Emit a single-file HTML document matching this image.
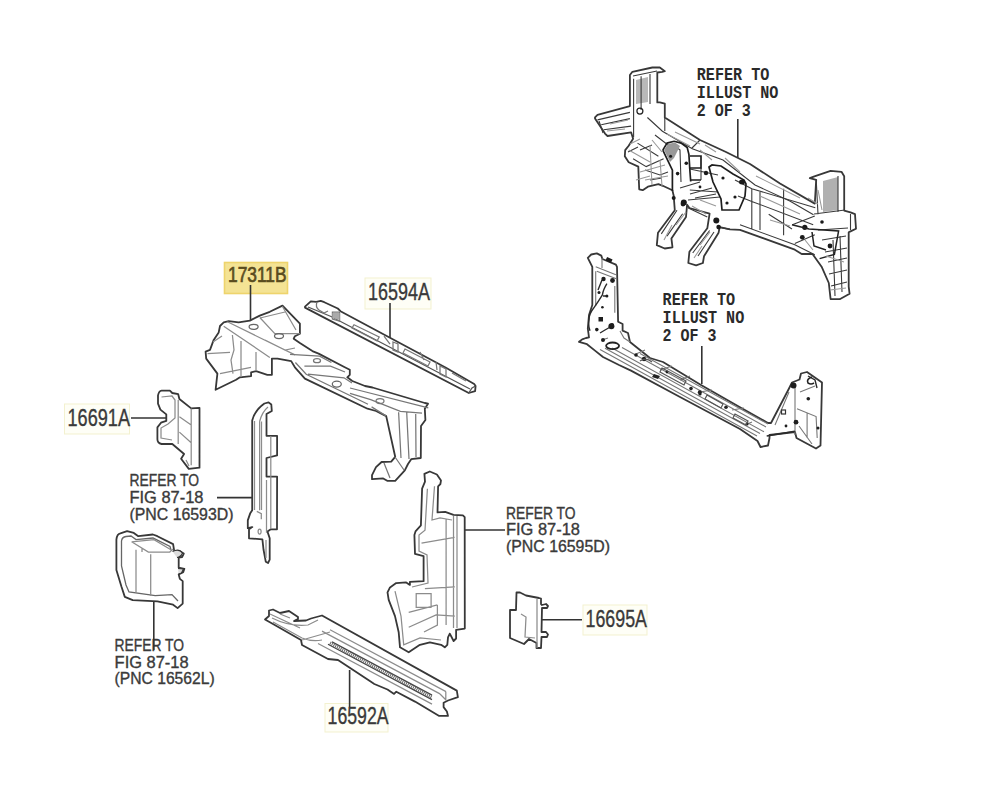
<!DOCTYPE html>
<html><head><meta charset="utf-8">
<style>
html,body{margin:0;padding:0;background:#fff;width:1000px;height:802px;overflow:hidden}
svg{display:block}
.s{font-family:"Liberation Sans",sans-serif;fill:#3a3a3a;stroke:#3a3a3a;stroke-width:0.35}
.m{font-family:"Liberation Mono",monospace;font-weight:bold;fill:#2a2a2a}
.ln{stroke:#333;stroke-width:1.6;fill:none}
.o{stroke:#383838;stroke-width:1.8;fill:#fff;stroke-linejoin:round}
.i{stroke:#8c8c8c;stroke-width:1.25;fill:none}
</style></head><body>
<svg width="1000" height="802" viewBox="0 0 1000 802">
<rect width="1000" height="802" fill="#fff"/>
<!-- label boxes -->
<rect x="224.5" y="262.5" width="63" height="31" fill="#f4e394" stroke="#eed46c" stroke-width="1.6"/>
<rect x="365" y="278" width="66" height="31" fill="#fefef6" stroke="#f3f1cf" stroke-width="1"/>
<rect x="64.5" y="404" width="65" height="30" fill="#fefef6" stroke="#f3f1cf" stroke-width="1"/>
<rect x="583" y="605" width="64" height="30" fill="#fefef6" stroke="#f3f1cf" stroke-width="1"/>
<rect x="325" y="703.5" width="63" height="28.5" fill="#fefef6" stroke="#f3f1cf" stroke-width="1"/>

<!-- labels -->
<text class="s" x="228" y="281.5" font-size="21.5" textLength="58.5" lengthAdjust="spacingAndGlyphs" style="fill:#5a4c1e;stroke:#5a4c1e;stroke-width:0.7">17311B</text>
<text class="s" x="368" y="300" font-size="23" textLength="62" lengthAdjust="spacingAndGlyphs">16594A</text>
<text class="s" x="67.5" y="426" font-size="23" textLength="62.5" lengthAdjust="spacingAndGlyphs">16691A</text>
<text class="s" x="585.5" y="627" font-size="23" textLength="61.5" lengthAdjust="spacingAndGlyphs">16695A</text>
<text class="s" x="327.6" y="724" font-size="23" textLength="61" lengthAdjust="spacingAndGlyphs">16592A</text>

<g class="s" font-size="16">
<text x="129.5" y="485.5" textLength="69.5" lengthAdjust="spacingAndGlyphs">REFER TO</text>
<text x="129.5" y="502.7" textLength="74" lengthAdjust="spacingAndGlyphs">FIG 87-18</text>
<text x="129.5" y="519.5" textLength="104" lengthAdjust="spacingAndGlyphs">(PNC 16593D)</text>

<text x="114.6" y="651" textLength="69.5" lengthAdjust="spacingAndGlyphs">REFER TO</text>
<text x="114.6" y="667.5" textLength="74" lengthAdjust="spacingAndGlyphs">FIG 87-18</text>
<text x="114.6" y="684" textLength="100" lengthAdjust="spacingAndGlyphs">(PNC 16562L)</text>

<text x="506" y="518.8" textLength="69.5" lengthAdjust="spacingAndGlyphs">REFER TO</text>
<text x="506" y="535" textLength="74" lengthAdjust="spacingAndGlyphs">FIG 87-18</text>
<text x="506" y="551.5" textLength="104" lengthAdjust="spacingAndGlyphs">(PNC 16595D)</text>
</g>

<g class="m" font-size="17.5">
<text x="696.8" y="80" textLength="72.6" lengthAdjust="spacingAndGlyphs">REFER TO</text>
<text x="696.8" y="98" textLength="81.6" lengthAdjust="spacingAndGlyphs">ILLUST NO</text>
<text x="696.8" y="116" textLength="54" lengthAdjust="spacingAndGlyphs">2 OF 3</text>

<text x="662.6" y="305" textLength="72.6" lengthAdjust="spacingAndGlyphs">REFER TO</text>
<text x="662.6" y="323" textLength="81.6" lengthAdjust="spacingAndGlyphs">ILLUST NO</text>
<text x="662.6" y="341" textLength="54" lengthAdjust="spacingAndGlyphs">2 OF 3</text>
</g>

<!-- leader lines -->
<g class="ln">
<line x1="250.5" y1="285" x2="250.5" y2="321"/>
<line x1="390" y1="303" x2="390" y2="339"/>
<line x1="131" y1="418" x2="166" y2="418"/>
<line x1="217" y1="497.6" x2="252" y2="497.6"/>
<line x1="153.8" y1="602" x2="153.8" y2="650"/>
<line x1="464" y1="530" x2="505" y2="530"/>
<line x1="541" y1="619.8" x2="582" y2="619.8"/>
<line x1="349.6" y1="670" x2="349.6" y2="707"/>
<line x1="737.8" y1="119" x2="737.8" y2="160"/>
<line x1="701.8" y1="346" x2="701.8" y2="384"/>
</g>
<!-- PARTS -->

<!-- A: 17311B -->
<g>
<path class="o" d="M220,326 L223.7,322.4 L228.7,321.2 L238.6,322.4 L249.9,320.6 L259.8,315.6 L269.8,311.8 L282.5,305.6 L299.9,323.7 L299.9,333.7 L294.9,336.2 L293.7,338.7 L299.9,343 L312.4,351.1 L318.6,353.6 L344.8,367.3 L349.8,369.8 L349.8,374.8 L347.3,377.3 L352.3,381 L365,386 L372.5,387.5 L424.8,403 L428,403.7 L424.8,408.7 L425.4,420 L421,426 L420.8,458 L411.2,459.2 L408,464 L404.8,470.4 L395.2,480.8 L387.2,480.8 L383.2,478.4 L372,479.2 L372,475.2 L376,467.2 L381.6,462 L391.2,461.6 L395.2,456.8 L386.2,416.1 L376,411 L367.5,408.7 L304.9,378.6 L294.9,367.3 L291.2,361.1 L277.5,358.6 L271.9,358.6 L271.9,374.8 L267.3,374.8 L256.1,371.1 L251.1,372.3 L251.1,376.1 L239.9,377.3 L236.1,379.8 L215.6,389.8 L217.4,373.6 L206.2,358.6 L205.6,351.7 L210,349.9 L213.7,339.9 L218.7,332.4 Z"/>
<path class="i" d="M227.4,321.8 L295,354.9 M223.7,326.2 L269.8,357.4 M241,341 L241,377 M256,352 L256,371 M232.4,335 L234,350 L231,360 L233,373.6 M207.5,353.6 L230,352.4 M220,373.6 L251,367.3 M259.8,317.5 L274.8,333.7 L299.9,333.7 M282.3,306.2 L296,330 M260,318 L285,312 M213,342 L222,336 M265,340 L285,350 L295,348"/>
<path class="i" style="stroke:#777" d="M290,354.4 L319.7,356.2 L331.4,362.5 M304.4,366.1 L330.5,366.1 L345,372 M308,374.2 L344,377.8 L352,383 M295.4,362.5 L306.2,374.2 L368,404.2 M350,388 L428.3,407.8 M350,393.4 L370.7,399.7 L400.4,411.4 L422,413.2 M371.6,406.9 L386,415.9 M398.6,412.3 L401,458 M406.7,412.3 L409,459 M415.7,414.1 L416,457 M395,457 L404,470 M384,463 L390,478"/>
<ellipse cx="253.6" cy="326.8" rx="4.5" ry="2.5" class="i" style="stroke:#666"/>
<ellipse cx="279" cy="336" rx="4.5" ry="2.5" class="i" style="stroke:#666"/>
<ellipse cx="336.8" cy="384.1" rx="4.5" ry="3" class="i" style="stroke:#666"/>
<ellipse cx="317" cy="360.7" rx="3.5" ry="2" class="i" style="stroke:#777"/>
<ellipse cx="380" cy="401" rx="4" ry="2.5" class="i" style="stroke:#777"/>
</g>

<!-- B: 16594A -->
<g>
<path class="o" d="M305,306.7 L310.8,301.3 L316.2,301.8 L320.7,300.9 L324.3,302.2 L337.8,308.5 L340.5,311.2 L446,367.8 L474.2,384 L475.6,386 L475.1,391.2 L468.8,393 L305,307.6 Z"/>
<path class="i" style="stroke:#555;stroke-width:1.3" d="M308,307 L331,316.5 L470,389 M468.8,393 L472,388 L475.5,386"/>
<path class="i" style="stroke:#777" d="M317,302 Q315,307 319,310 L324,313 L328,311 M332.4,312.1 L339.6,312.1 L339.6,321.1 L332.4,319 Z M354,324.7 L379.2,337 L377,341 L352,328 Z M393,342 L398,344 L398,352 L393,350 Z M405,349 L430,362 L428,366 L403,353 Z M440,366 L446,369 L446,377 L440,374 Z M452,373 L466,381 M384,336 L390,344 M420,352 L424,360 M436,362 L437,370"/>
<path d="M332.4,313 L339.6,313 L339.6,320 L332.4,318 Z" fill="#aaa"/>
</g>

<!-- C: 16691A -->
<g>
<path class="o" d="M158,395.4 Q159,391 161.6,390.7 L169.9,390.7 L172.3,393 L178.2,394.2 L179.4,399 L191.2,408.4 L199.5,407.8 L199.5,467.7 L188.8,468.9 L181.1,458.8 L184.1,454 L172.3,444 L161.6,444 Q157.4,443 157.4,439.2 L157.4,427.4 L161,422.7 L166.3,420.9 L166.3,414.4 L160.4,409.6 L158,403.7 Z"/>
<path class="i" d="M178.2,400 L178.2,444 M191.2,408.4 L191.2,465.3 M179.4,416.7 L191.2,425 M179.4,432.1 L191.2,442.8 M161.5,397 L172,396 L175,400 L175,418 L168,424 L161,428 L161,438 L172,440 M186,460 L189,466"/>
</g>

<!-- D: 16593D -->
<g>
<path class="o" d="M252.2,510.3 L252.2,420.4 Q255,410 264.4,403.5 L268.6,402.4 L271.3,404.5 L271.8,410.9 L266.5,414.1 L266.5,435.8 L277.1,435.8 L277.1,455.4 L266.5,458 L266.5,476.6 L277.1,476.6 L277,529.3 L270.8,529.3 L267.5,531.6 L269.7,538.3 L269.7,559.6 L268,563 L265.8,561.8 L263.5,549.5 L262.4,539.4 L249,538.3 L249,529.3 L252.3,527.1 L247.8,528.2 L247.8,520.4 L250.1,513.6 Z"/>
<path class="i" d="M254.5,421 L254.5,510 M259.6,421.5 L259.6,510.3 M261.5,421.5 L261.5,510 M259.6,421.5 Q262,412 268,407 M270.8,436 L270.8,529 M256.8,511.4 L261.3,513.6 L261.3,519.2 M266.5,480 L266.5,532.7 M266,540 L266,558"/>
<ellipse cx="259.6" cy="531.6" rx="1.5" ry="2.5" class="i"/>
</g>

<!-- E: 16562L -->
<g>
<path class="o" d="M116.4,539.6 Q117,534 120.4,533.4 L127.1,531.2 L133.8,532.9 L138.3,536.2 L152.9,534.5 L157.4,536.2 L173.1,544.1 L174.2,550.8 L179.9,551.4 L183.8,553.6 L182.1,557 L178.7,557.6 L178.7,567.7 L184.4,568.8 L183.2,572.2 L178.7,574.4 L179.9,578.9 L182.7,581.1 L182.7,603.6 L177.6,608.1 L173.1,604.7 L157.4,601.4 L132.7,600.2 L124.8,596.9 L121.5,586.8 L116.4,569.9 Z"/>
<path class="i" style="stroke:#666;stroke-width:1.3" d="M121.5,541 Q122,537 126,536.5 L131,536 L136,539.6 L153,538 L170,546.5 L171,550 M121.5,541 L121.5,566 L126,585 L129,592 L155.2,595.7 L172,594.6 L178,601"/>
<path class="i" d="M131.6,541.8 L148.4,552 L169.8,552 L173,549 M131.6,541.8 L154,539.6 L170.9,549.7 M136,549.7 L136,592.4 M150.7,554.2 L150.7,595.7 M142,548 L142,552"/>
<path d="M172.5,551.5 Q179,548 182.5,553 Q181,557 177,557.5 M178,568.5 L183.5,569 L181.5,573 L178.5,574" stroke="#333" stroke-width="1.2" fill="#ddd"/>
</g>

<!-- F: 16595D -->
<g>
<path class="o" d="M424.4,473.9 L429.8,471.5 L436.9,474.5 L441,480.4 L440.4,484 L438.1,486.3 L437.5,512.4 L445.2,511.8 L453.5,514.8 L462.9,515.4 L464.7,517.1 L464.8,628.6 L456.1,629.8 L456.1,638.5 L453.6,641 L449.8,633.6 L448,637.3 L447.3,644.8 L444.8,647.3 L441.1,644.8 L429.9,642.3 L419.9,644.8 L408.7,652.3 L400,647.3 L398.7,632.3 L395,616.1 L388.7,599.9 L387.5,592.4 L390,587.4 L396.2,583.1 L406.2,582.4 L409.9,584.9 L409.9,581.8 L423.6,581.2 L423.6,556.2 L415,553.9 L414.4,534.9 L415.5,531.4 L420.9,525.4 L422.1,488.7 L425,481.6 Z"/>
<path class="i" d="M427.4,488.7 L425,530.2 L419,535 L419,551 L427,555 L428,583 L412,587 M434.5,486.3 L432,520 L440,518 L452,520 M446.1,519.5 L446.1,625 M453.5,516 L453.5,628 M457,516 L457,628 M421.5,543.2 L454.6,537.3 M424.9,588.7 L454.8,586.8 M408.7,612.4 L437.4,604.9 M408.7,627.3 L436.1,614.9 L454.8,616.1 M416.2,593.7 L431.1,593.7 L431.1,607.4 L416.2,607.4 Z M395,591.2 L401,616 L403.7,644.8 L420,638 L441,640 M437.4,604.9 L437.4,625 L424,632"/>
</g>

<!-- G: 16695A -->
<g>
<path class="o" d="M516.5,592.5 L520,592.5 L526,595.5 L539,598 L541,598.5 L541,604 L542,605 L546,604 L548,606 L547,608 L542,608 L541.5,632 L546,632 L548,634.5 L547,637 L541.5,637 L541,648 L536.5,648 L536.5,643 L529,639 L524,644 L510,638 L510,610 L516,610 Z"/>
<path class="i" d="M537,599 L537,648 M521,614 L526,617 L525,637 L535,638"/>
</g>

<!-- H: 16592A -->
<g>
<path class="o" d="M265,619.5 L269,616 L269,610.5 L273,609.5 L280,613 L289,611 L298,617 L298,619 L294,621 L306,620.5 L311,618.5 L322,615.5 L456.8,690.6 L457.9,697.2 L448,700.5 L443.6,702.7 L443.6,707.1 L446.9,711.5 L448,715.9 L439.2,715.9 L415,701.6 L396.3,691.7 L394.1,693.9 L387.5,689.5 L374.3,684 L371,681.8 L338,660 L328,659 L302,645 L301,640 L273,624 Z"/>
<path class="i" d="M330,629.8 L446,691.6 M322,631.1 L440,693.9 M318,643.5 L432,704.1  M272,618 Q290,627 308,625 L318,620 M273,622 L302,638 Q312,642 322,640 M445.8,691.7 L445.8,700.5 M440,694 L446,700 M280,614 L290,618 M302,640 L330,632 M270,614 L300,628"/>
<path d="M332,641.9 L432,695.1 M328,644.3 L432,699.6 " stroke="#444" stroke-width="1.3" fill="none"/>
<path d="M330,643.0 L432,697.3 " stroke="#666" stroke-width="3.5" fill="none" stroke-dasharray="1 1"/>
</g>

<!-- RIGHT -->

<!-- UA: upper right assembly -->
<g>
<path class="o" d="M629.9,75 L632.4,71.8 L652.3,67.5 L659.8,67.5 L664.8,71.2 L662.3,71.8 L657.3,72.5 L657.3,102.4 L659.8,102.4 L664.8,103.6 L664.8,117.4 L700,140 L726,152 L750,164 L780,183.5 L814.8,203.6 L816.2,179.9 L809.8,178.1 L814.4,176.3 L830.6,170.8 L841.5,171.8 L844.2,176.3 L844.2,210.6 L850.5,212.4 L855,214.2 L856,228.7 L850.5,231.4 L848.7,232.3 L848.7,286.6 L849.6,293.8 L839.7,299.2 L830.6,299.2 L828.8,283 L821.6,266.7 L812.5,254 L801.7,254 L794.8,249.7 L740,229.8 L730,229.4 L719.7,227.1 L718.6,232.7 L704,256.3 L702.9,263 L696.1,265.3 L688.3,263 L689.4,251.8 L707.3,228.3 L709.6,213.7 L689.4,208 L687.1,204.7 L686,217 L671.4,238.4 L672.5,247.3 L664.7,248.5 L656.8,245.1 L658,232.7 L674.8,210.3 L673.7,195.7 L672.4,190.2 L662.8,185.8 L658.4,184.1 L647.9,186.7 L642.7,190.2 L639.2,189.3 L638.3,166.6 L628.7,162.3 L624.8,156.2 L625.2,150.1 L628.7,145.7 L633.1,138.7 L631.1,132.3 L607.5,136 L605,133.6 L595,118.6 L595,117.4 L597.5,114.9 L629.9,106.1 Z"/>
<path d="M636,80 L648,77 L648,102 L636,104 Z" fill="#b8b8b8"/>
<path d="M823,181 L838,177 L838,210 L823,212 Z" fill="#b0b0b0"/>
<g class="i" style="stroke:#3a3a3a;stroke-width:1.1">
<path d="M633.6,78.7 L633.6,137.3 M641.1,76.2 L641.1,109.9 M650,74 L650,104 M633,76 L657,71 M597.5,119.9 L629.9,112.4 M601.2,124.8 L629.9,118.6 M603.7,129.8 L631.1,126.1 M599,121 L603,133"/>
<path d="M647.4,117.5 L662.4,131.2 L692.3,148.7 L723,160 L755,185 L789.8,201.1 L813.5,214.8 M664.8,117.4 L664.8,131 M692,148 L700,140"/>
<path d="M637.5,143.1 L658.4,156.2 M633.1,158.8 L646.2,166.6 L663.6,158.8 M640,150 L652,145 M645,170 L660,175 L668,172 M650,180 L662,178 M628,152 L638,147 M655,135 L668,145"/>
<path d="M674,150 Q676,146 680,150 L681,182 M689.8,169 L718,175 M701,168 L701,180 M689.8,190 L718,192 M688,200 L720,197 M680,188 L700,182 M690,194 L712,188 M695,198 L716,194"/>
<path d="M677,210.3 L661.3,233.9 M682.6,213.7 L667,236.1 M709.6,230.5 L692.7,253 M714,232 L698,256 M688.3,208 L707.3,217 M718.6,227.1 L730,229.4"/>
<path d="M751.8,188.7 L815.3,207.8 M751.8,201.4 L813.2,224.7 M768.7,214.2 L792,229 M783.6,188.7 L783.6,235.3 M751.8,188.7 L751.8,229 M740,224.8 L794.8,244.7 L814.8,254.7 M792.3,224.8 L814.8,216 M794.8,243.5 L814.8,234.8 M760,192 L760,230 M735,180 L751.8,188.7 M738,196 L751.8,201.4"/>
<path d="M816.2,179.9 L818,214.2 M838,176 L838,212 M814,214 L845,210 M818,230 L848,228 M822,240 L846,236 M825,252 L847,248 M828,262 L847,258 M829,274 L847,270 M831,286 L847,282 M833,240 L835,296 M840,236 L842,292 M850.5,214 L850.5,230"/>
</g>
<path d="M662.8,150.1 L667.1,143.1 L674.1,141.3 L681.1,143.1 L687.2,147.5 L688.9,154.4 L689.8,169.3 L690.7,181.5 M662.8,150.1 L672.4,170.1 L672.4,191.1 M690,156 L701,156 L701,168 L690,168 M709,167 L712,165 L721,166 L733,174 L744,180 L746,184 L745,196 L739,210 L722,210 L721,199 L713,182 Z M689.8,180 L701,180" stroke="#1e1e1e" stroke-width="1.7" fill="none"/>
<path d="M664,150 L668,144 L675,142.5 L680,146 L674,158 L670,162 Z" fill="#999"/>
<g fill="#1a1a1a">
<circle cx="670.6" cy="156.2" r="1.5"/><circle cx="677.6" cy="173.6" r="1.8"/><circle cx="686.3" cy="163.2" r="1.8"/><circle cx="706" cy="173" r="2.2"/><circle cx="723" cy="178" r="1.6"/><ellipse cx="742" cy="182" rx="3" ry="2.5"/><circle cx="700" cy="187" r="1.4"/>
<circle cx="683.8" cy="202.4" r="3"/><circle cx="673.7" cy="198" r="2"/><circle cx="716.3" cy="220.4" r="3"/><circle cx="718.6" cy="227.1" r="2.3"/><circle cx="683" cy="204" r="2.4"/>
<circle cx="804.8" cy="227.3" r="2.6"/><circle cx="802.3" cy="237.3" r="2.4"/><circle cx="830" cy="246" r="2.4"/><circle cx="822" cy="222" r="1.8"/><circle cx="735" cy="197" r="1.6"/><circle cx="727" cy="203" r="1.6"/>
</g>
<circle cx="639.9" cy="111.1" r="3" fill="none" stroke="#222" stroke-width="1.2"/>
<path d="M792,224.7 L809,229 L838.6,231 L834.4,254.4 L819.6,258.6 M812,232 L814,246 L826,250" stroke="#222" stroke-width="1.5" fill="none"/>
<g class="i" style="stroke:#999;stroke-width:1.1">
<path d="M628.7,150 L650,162 M640,172 L665,165 M645,180 L668,176 M652,140 L662,152 M650,145 L652,185 M636,180 L650,176 M660,160 L662,186 M630,144 L640,139 M667,134 L690,146 M675,132 L700,144 M700,150 L712,160 M705,145 L716,152 M725,158 L740,172 M756,176 L800,198 M760,196 L800,214 M770,220 L790,226 M700,200 L716,206 M692,206 L706,214 M676,225 L686,212 M664,240 L672,225 M700,245 L710,232 M694,258 L702,246 M805,240 L813,250 M808,198 L818,204  M818,190 L822,210 M826,256 L844,262 M830,290 L846,288 M610,124 L628,120 M607,131 L625,129"/>
</g>
<circle cx="739" cy="160" r="0.1" fill="none"/>

</g>

<!-- LA: lower right assembly -->
<g>
<path class="o" d="M587.8,257.8 L591.2,254.5 L596.8,253.4 L601.3,255.6 L602.4,259 L615.9,264.6 L617,266.8 L618.1,321.7 L622.6,324 L622.6,330.7 L628,333 L630,342 L650,358 L663,362 L701,384.9 L740,407.3 L768,423 L771,423 L789,388.5 L792,382.5 L799.5,379.5 L801,373.5 L807,372 L822,382.5 L820.5,445.5 L816,448.5 L796.5,438 L795,432 L769.5,435 L769.5,438 L768,445.5 L760.5,447 L757.5,441 L740,429 L680,397 L631,370.6 L619,365 L603,357 L595,350.6 L587,344.2 L579,341.8 L582.2,339.4 L586,338 L589,337.4 L587.8,328.5 L589,315 L592.3,305 L592.3,266.8 Z"/>
<g class="i" style="stroke:#777;stroke-width:1.1">
<path d="M600,349.5 L757,436.0 M605,348.2 L760,433.6 M612,348.1 L764,431.8 M622,347.6 L766,426.9 M640,353.5 L768,424.0 "/>
<path d="M595.7,271.3 L595.7,306 M614.8,285.9 L614.8,312.8 M595.7,266.8 L615.9,274.7 M596.8,271.3 L617,279 M602,258 L602,268 M620,331 L624,338 L630,342 M795,387 L795,435 M797,408.8 L816.1,416.6 L817.2,438 M807.1,413.3 L807.1,438 M775,425 L789,392 M800,392 L815,386 M799,426 L812,444 M602,340 L608,338 M636,354 L645,350 M660,370 L672,366 M700,392 L712,390 M732,410 L744,408 M745,425 L752,422 M680,380 L690,376"/>
</g>
<path d="M606.9,283.6 Q603,290 602.4,294.8 Q598,302 593.5,308.3 Q589,314 589,319.5 Q588,326 590,330.7 M602,280 L598,290 M603,296 L606,296 M612,326 L605,330 L600,333 M766.7,436 L794.8,431.2 M808,376 L815,380 L817,388" stroke="#2a2a2a" stroke-width="1.4" fill="none"/>
<g fill="#1e1e1e">
<circle cx="603.5" cy="279" r="2.2"/><circle cx="612.5" cy="280.5" r="2.4"/><rect x="606" y="258" width="6" height="4" transform="rotate(25 609 260)"/><circle cx="611.4" cy="326.2" r="3"/><rect x="598.5" y="317" width="4.5" height="4.5"/><circle cx="599" cy="292.6" r="1.5"/><circle cx="606.9" cy="296" r="1.5"/><circle cx="602.4" cy="307.2" r="1.3"/><circle cx="596.8" cy="329.6" r="1.8"/>
<circle cx="603" cy="340" r="2"/><circle cx="644" cy="359" r="2.2"/><circle cx="636" cy="355" r="1.8"/><circle cx="612" cy="325" r="2"/><circle cx="667" cy="372" r="1.4"/><circle cx="700" cy="394" r="1.6"/><circle cx="747" cy="424" r="1.6"/>
<circle cx="793.5" cy="385.5" r="3"/><circle cx="796" cy="422.2" r="2.4"/><circle cx="808.3" cy="398.7" r="1.8"/><rect x="781.5" y="410" width="4" height="4" fill="none" stroke="#333" stroke-width="1.2"/><path d="M812,377 Q806,379 808,383 Q811,385 814,383" fill="none" stroke="#222" stroke-width="1.6"/><circle cx="786" cy="426" r="1.4"/><circle cx="818" cy="428" r="1.5"/>
</g>
<ellipse cx="612.6" cy="345.8" rx="6.5" ry="3.3" fill="none" stroke="#222" stroke-width="1.8"/>
<g fill="none" stroke="#555" stroke-width="1.2">
<path d="M662,368 L686,381 L684,385 L660,372 Z M707,395 L723,404 L721,408 L705,399 Z M640,361 Q646,357 652,362 M735,414 L748,421 L746,425 L733,418 Z"/>
</g>
<g fill="#222"><circle cx="691" cy="388.6" r="1.8"/><circle cx="699.8" cy="392.3" r="2"/><circle cx="726" cy="407.3" r="1.8"/><path d="M654,374 L660,376 L658,379 L652,377 Z"/></g>
</g>
</svg>
</body></html>
